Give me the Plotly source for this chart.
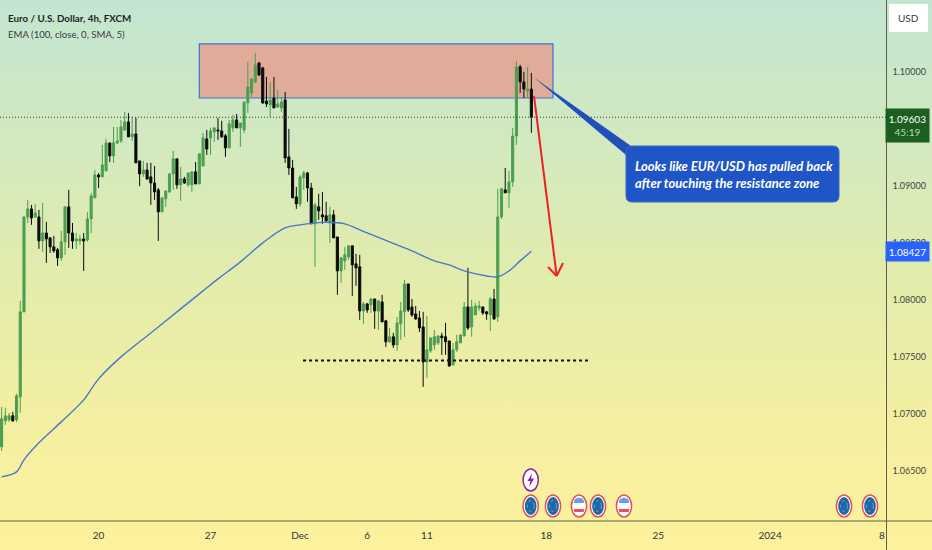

# plot.py - EUR/USD 4h candles with resistance zone and callout
import base64
import plotly.graph_objects as go

# candles, one per 4h bar
opens = [1.06712, 1.06940, 1.06949, 1.06984, 1.06949, 1.07150, 1.07896, 1.08729, 1.08799, 1.08729,
         1.08729, 1.08518, 1.08588, 1.08545, 1.08466, 1.08440, 1.08369, 1.08510, 1.08817, 1.08588,
         1.08518, 1.08518, 1.08536, 1.08527, 1.08711, 1.08896, 1.09097, 1.09080, 1.09132, 1.09378,
         1.09264, 1.09378, 1.09395, 1.09492, 1.09562, 1.09431, 1.09457, 1.09220, 1.09106, 1.09141,
         1.09080, 1.09027, 1.08966, 1.08773, 1.08887, 1.08948, 1.09106, 1.09238, 1.09010, 1.09062,
         1.09010, 1.09010, 1.09124, 1.09018, 1.09176, 1.09413, 1.09422, 1.09474, 1.09492, 1.09483,
         1.09440, 1.09334, 1.09510, 1.09580, 1.09510, 1.09492, 1.09729, 1.09816, 1.09913, 1.10080,
         1.10036, 1.09746, 1.09711, 1.09772, 1.09693, 1.09685, 1.09755, 1.09255, 1.09158, 1.08904,
         1.08843, 1.09071, 1.09115, 1.08983, 1.08668, 1.08817, 1.08747, 1.08738, 1.08676, 1.08747,
         1.08553, 1.08255, 1.08343, 1.08378, 1.08475, 1.08317, 1.08291, 1.07904, 1.07966, 1.07957,
         1.08009, 1.07904, 1.07983, 1.07817, 1.07633, 1.07677, 1.07606, 1.07791, 1.07896, 1.08141,
         1.07939, 1.07878, 1.07843, 1.07764, 1.07457, 1.07554, 1.07606, 1.07624, 1.07685, 1.07677,
         1.07641, 1.07431, 1.07563, 1.07624, 1.07685, 1.07939, 1.07764, 1.07869, 1.07931, 1.07939,
         1.07896, 1.07869, 1.08009, 1.07852, 1.08729, 1.08966, 1.08940, 1.09036, 1.09439, 1.10045,
         1.09913, 1.09834, 1.09851]
highs = [1.07062, 1.07054, 1.07010, 1.07019, 1.07177, 1.07992, 1.08729, 1.08878, 1.08834, 1.08843,
         1.08790, 1.08852, 1.08685, 1.08553, 1.08562, 1.08457, 1.08606, 1.08817, 1.08966, 1.08676,
         1.08588, 1.08571, 1.08588, 1.08773, 1.08940, 1.09141, 1.09114, 1.09361, 1.09413, 1.09378,
         1.09518, 1.09518, 1.09580, 1.09650, 1.09641, 1.09606, 1.09597, 1.09220, 1.09220, 1.09203,
         1.09203, 1.09176, 1.08983, 1.08896, 1.08957, 1.09115, 1.09308, 1.09238, 1.09167, 1.09080,
         1.09115, 1.09124, 1.09211, 1.09282, 1.09466, 1.09492, 1.09510, 1.09510, 1.09597, 1.09571,
         1.09457, 1.09580, 1.09624, 1.09632, 1.09553, 1.09737, 1.10088, 1.09948, 1.10167, 1.10088,
         1.10045, 1.09957, 1.09913, 1.09957, 1.09843, 1.09781, 1.09825, 1.09501, 1.09229, 1.08992,
         1.09097, 1.09132, 1.09124, 1.09027, 1.08852, 1.08931, 1.08948, 1.08861, 1.08817, 1.08790,
         1.08553, 1.08378, 1.08466, 1.08475, 1.08475, 1.08405, 1.08396, 1.07983, 1.07974, 1.08018,
         1.08009, 1.08001, 1.08045, 1.07826, 1.07755, 1.07712, 1.07852, 1.07983, 1.08176, 1.08141,
         1.08009, 1.07948, 1.07904, 1.07896, 1.07861, 1.07668, 1.07738, 1.07685, 1.07712, 1.07799,
         1.07641, 1.07624, 1.07694, 1.07694, 1.07983, 1.08282, 1.08001, 1.07974, 1.07992, 1.07939,
         1.07904, 1.08027, 1.08097, 1.08975, 1.08983, 1.09158, 1.09132, 1.09510, 1.10097, 1.10062,
         1.10001, 1.10045, 1.09992]
lows = [1.06677, 1.06905, 1.06931, 1.06931, 1.06931, 1.07010, 1.07896, 1.08676, 1.08659, 1.08720,
        1.08449, 1.08423, 1.08325, 1.08414, 1.08414, 1.08299, 1.08343, 1.08396, 1.08457, 1.08449,
        1.08449, 1.08483, 1.08255, 1.08510, 1.08588, 1.08896, 1.08983, 1.09080, 1.09132, 1.09211,
        1.09203, 1.09369, 1.09378, 1.09483, 1.09431, 1.09395, 1.09203, 1.08999, 1.09080, 1.09053,
        1.08834, 1.08878, 1.08518, 1.08773, 1.08817, 1.08940, 1.08966, 1.08975, 1.08869, 1.09018,
        1.08992, 1.08948, 1.09018, 1.09018, 1.09176, 1.09273, 1.09273, 1.09387, 1.09404, 1.09422,
        1.09255, 1.09334, 1.09474, 1.09510, 1.09343, 1.09466, 1.09641, 1.09781, 1.09904, 1.09965,
        1.09720, 1.09693, 1.09606, 1.09685, 1.09685, 1.09650, 1.09203, 1.09097, 1.08896, 1.08799,
        1.08817, 1.08966, 1.08861, 1.08668, 1.08290, 1.08703, 1.08668, 1.08676, 1.08501, 1.08545,
        1.08045, 1.08150, 1.08264, 1.08352, 1.08036, 1.08124, 1.07826, 1.07791, 1.07887, 1.07887,
        1.07747, 1.07738, 1.07808, 1.07589, 1.07624, 1.07580, 1.07554, 1.07650, 1.07677, 1.07896,
        1.07852, 1.07826, 1.07720, 1.07238, 1.07317, 1.07536, 1.07563, 1.07606, 1.07519, 1.07519,
        1.07413, 1.07422, 1.07545, 1.07624, 1.07685, 1.07738, 1.07677, 1.07869, 1.07904, 1.07869,
        1.07826, 1.07729, 1.07826, 1.07808, 1.08711, 1.08940, 1.08808, 1.08992, 1.09360, 1.09816,
        1.09772, 1.09772, 1.09466]
closes = [1.06958, 1.06984, 1.06984, 1.06940, 1.07159, 1.07896, 1.08729, 1.08799, 1.08720, 1.08764,
          1.08518, 1.08588, 1.08536, 1.08466, 1.08431, 1.08369, 1.08510, 1.08817, 1.08588, 1.08518,
          1.08536, 1.08536, 1.08518, 1.08711, 1.08913, 1.09097, 1.09080, 1.09185, 1.09378, 1.09264,
          1.09378, 1.09395, 1.09518, 1.09562, 1.09431, 1.09457, 1.09203, 1.09106, 1.09141, 1.09062,
          1.09027, 1.08948, 1.08773, 1.08896, 1.08957, 1.09106, 1.09238, 1.09010, 1.09062, 1.09027,
          1.09115, 1.09124, 1.09018, 1.09282, 1.09422, 1.09325, 1.09483, 1.09510, 1.09483, 1.09431,
          1.09334, 1.09545, 1.09580, 1.09510, 1.09553, 1.09737, 1.09869, 1.09939, 1.10062, 1.09974,
          1.09729, 1.09720, 1.09755, 1.09685, 1.09720, 1.09737, 1.09246, 1.09158, 1.08896, 1.08843,
          1.09080, 1.09115, 1.08983, 1.08668, 1.08834, 1.08782, 1.08729, 1.08694, 1.08747, 1.08545,
          1.08255, 1.08369, 1.08396, 1.08475, 1.08308, 1.08282, 1.07904, 1.07966, 1.07913, 1.08009,
          1.07904, 1.07992, 1.07808, 1.07633, 1.07677, 1.07606, 1.07799, 1.07904, 1.08141, 1.07913,
          1.07869, 1.07834, 1.07755, 1.07457, 1.07563, 1.07668, 1.07677, 1.07685, 1.07668, 1.07633,
          1.07422, 1.07563, 1.07633, 1.07694, 1.07939, 1.07755, 1.07939, 1.07948, 1.07948, 1.07887,
          1.07878, 1.08009, 1.07834, 1.08729, 1.08975, 1.08940, 1.09036, 1.09439, 1.10045, 1.09913,
          1.09851, 1.09851, 1.09603]
bars = list(range(len(closes)))

# EMA line, read at these bars
ema_bars = [0, 4, 6, 10, 16, 22, 26, 32, 40, 48, 54, 58, 64, 70, 76, 80, 86, 92, 96, 100,
            106, 110, 116, 120, 124, 130, 133, 136, 139, 142]
ema_vals = [1.06448, 1.06492, 1.06598, 1.06747, 1.06931, 1.07124, 1.07308, 1.07501, 1.07711, 1.07922,
            1.08080, 1.08185, 1.08334, 1.08501, 1.08632, 1.08659, 1.08681, 1.08668, 1.08615, 1.08562,
            1.08483, 1.08431, 1.08343, 1.08308, 1.08255, 1.08211, 1.08203, 1.08255, 1.08343, 1.08427]

x_ticks = [26, 56, 80, 98, 114, 146, 176, 206, 236]
x_labels = ["20", "27", "Dec", "6", "11", "18", "25", "2024", "8"]
y_ticks = [1.065, 1.07, 1.075, 1.08, 1.085, 1.09, 1.095, 1.10]

last_price = 1.09603
countdown = "45:19"
ema_last = 1.08427
support_level = 1.0747

FONT = "Lato, Roboto, sans-serif"
W = 932
H = 550


def px(x):
    return x / W


def py(y):
    return 1 - y / H


def ellipse(cx, cy, rx, ry, fill, line="rgba(0,0,0,0)", width=1, dash="solid"):
    return dict(type="circle", xref="paper", yref="paper", x0=px(cx - rx), x1=px(cx + rx),
                y0=py(cy + ry), y1=py(cy - ry), fillcolor=fill, line=dict(color=line, width=width, dash=dash))


def poly(points, fill):
    path = "M " + " L ".join("%f,%f" % (px(a), py(b)) for a, b in points) + " Z"
    return dict(type="path", xref="paper", yref="paper", path=path, fillcolor=fill, line=dict(width=0))


# gradient background, stretched over the whole page
svg = """<svg xmlns='http://www.w3.org/2000/svg' width='932' height='550' preserveAspectRatio='none'>
<defs><linearGradient id='g' x1='0' y1='0' x2='0' y2='1'>
<stop offset='0' stop-color='#c3e5d1'/><stop offset='0.25' stop-color='#d2e9c0'/>
<stop offset='0.5' stop-color='#e2ecac'/><stop offset='0.75' stop-color='#f3efa2'/>
<stop offset='1' stop-color='#fdf29c'/></linearGradient></defs>
<rect width='932' height='550' fill='url(#g)'/></svg>"""
bg_uri = "data:image/svg+xml;base64," + base64.b64encode(svg.encode()).decode()

fig = go.Figure()

fig.add_trace(go.Candlestick(
    x=bars, open=opens, high=highs, low=lows, close=closes,
    increasing=dict(line=dict(color="#4c9f50", width=1), fillcolor="#4c9f50"),
    decreasing=dict(line=dict(color="#0a0a0a", width=1), fillcolor="#0a0a0a"),
    whiskerwidth=0, showlegend=False, hoverinfo="skip",
))

fig.add_trace(go.Scatter(x=ema_bars, y=ema_vals, mode="lines", showlegend=False, hoverinfo="skip",
                         line=dict(color="#4a78c8", width=1.4, shape="spline")))

shapes = []
# resistance zone
shapes.append(dict(type="rect", xref="x", yref="y", x0=53, x1=147.8, y0=1.09772, y1=1.10246, layer="below",
                   fillcolor="#e0ab99", line=dict(color="#3f74d6", width=1.2)))
# last price line and support line
shapes.append(dict(type="line", xref="x", yref="y", x0=-0.43, x1=237.2, y0=last_price, y1=last_price,
                   line=dict(color="#2a4a2a", width=1, dash="1px,2px")))
shapes.append(dict(type="line", xref="x", yref="y", x0=80.8, x1=157.7, y0=support_level, y1=support_level,
                   line=dict(color="#111111", width=2, dash="dot")))
# red arrow
for a, b in [((534, 96), (556.7, 276)), ((548, 267), (556.7, 276)), ((563, 263), (556.7, 276))]:
    shapes.append(dict(type="line", xref="paper", yref="paper", x0=px(a[0]), y0=py(a[1]), x1=px(b[0]), y1=py(b[1]),
                       line=dict(color="#ee2222", width=2)))
# callout tail and box
shapes.append(poly([(534.3, 77.7), (631, 146), (626, 155)], "#2150bb"))
x0, x1, y0, y1, r = 626, 839, 146, 202, 6
box = ("M %f,%f L %f,%f Q %f,%f %f,%f L %f,%f Q %f,%f %f,%f L %f,%f Q %f,%f %f,%f L %f,%f Q %f,%f %f,%f Z" % (
    px(x0 + r), py(y0), px(x1 - r), py(y0), px(x1), py(y0), px(x1), py(y0 + r),
    px(x1), py(y1 - r), px(x1), py(y1), px(x1 - r), py(y1),
    px(x0 + r), py(y1), px(x0), py(y1), px(x0), py(y1 - r),
    px(x0), py(y0 + r), px(x0), py(y0), px(x0 + r), py(y0)))
shapes.append(dict(type="path", xref="paper", yref="paper", path=box, fillcolor="#1f55c6",
                   line=dict(color="#3d68c4", width=1)))
# axis lines run past the plot to the page edge
shapes.append(dict(type="line", xref="paper", yref="paper", x0=0, x1=1, y0=py(521), y1=py(521),
                   line=dict(color="#5c5c50", width=1)))
shapes.append(dict(type="line", xref="paper", yref="paper", x0=px(886.5), x1=px(886.5), y0=0, y1=1,
                   line=dict(color="#5c5c50", width=1)))
# USD box
shapes.append(dict(type="rect", xref="paper", yref="paper", x0=px(889), x1=px(928), y0=py(32), y1=py(4),
                   fillcolor="#ffffff", line=dict(width=0)))

# calendar icons along the bottom
for cx in [530.7, 553, 598, 844, 870]:
    shapes.append(ellipse(cx, 506, 7.6, 11, "#ffffff", "#e2525c", 1.5))
    shapes.append(ellipse(cx, 506, 5.8, 9, "#1c68a8"))
    shapes.append(ellipse(cx, 506, 3.4, 5.4, "rgba(0,0,0,0)", "#7fa8a0", 1, "dot"))
for cx in [579, 624]:
    shapes.append(ellipse(cx, 506, 7.6, 11, "#ffffff", "#e2525c", 1.5))
    shapes.append(poly([(cx - 5.5, 503), (cx - 4, 499), (cx, 497.5), (cx + 4, 499), (cx + 5.5, 503)], "#63a0ea"))
    shapes.append(poly([(cx - 5.4, 509), (cx + 5.4, 509), (cx + 4.6, 512), (cx - 4.6, 512)], "#e2525c"))
# lightning icon
shapes.append(ellipse(530.7, 480, 7.6, 11, "#ffffff", "#8e24aa", 1.5))
shapes.append(poly([(532, 473), (527.5, 481), (530.3, 481), (529.3, 487), (534, 478.5), (531, 478.5)], "#8e24aa"))

annotations = [
    dict(text="<b>Euro / U.S. Dollar, 4h, FXCM</b>", xref="paper", yref="paper", x=px(6), y=py(18), xanchor="left",
         yanchor="middle", showarrow=False, font=dict(family=FONT, size=9.8, color="#1f1f1f")),
    dict(text="EMA (100, close, 0, SMA, 5)", xref="paper", yref="paper", x=px(6), y=py(35), xanchor="left",
         yanchor="middle", showarrow=False, font=dict(family=FONT, size=9.6, color="#3a3a3a")),
    dict(text="USD", xref="paper", yref="paper", x=px(908), y=py(18), xanchor="center", yanchor="middle",
         showarrow=False, font=dict(family=FONT, size=10, color="#3a3a3a")),
    dict(text="<b><i>Looks like EUR/USD has pulled back<br>after touching the resistance zone</i></b>",
         xref="paper", yref="paper", x=px(633), y=py(174), xanchor="left", yanchor="middle", align="left",
         showarrow=False, font=dict(family=FONT, size=13, color="#ffffff")),
    dict(text="%.5f<br><span style='color:#b9d8b5'>%s</span>" % (last_price, countdown), xref="paper", yref="y",
         x=px(907.5), y=last_price, xanchor="center", yanchor="top", yshift=9, showarrow=False, width=41, height=31,
         align="center", bgcolor="#1b5e20", font=dict(family=FONT, size=10, color="#ffffff")),
    dict(text="%.5f" % ema_last, xref="paper", yref="y", x=px(907.5), y=ema_last, xanchor="center", yanchor="middle",
         showarrow=False, width=41, height=17, bgcolor="#2962ff", font=dict(family=FONT, size=10, color="#ffffff")),
]

fig.update_layout(
    width=W, height=H,
    margin=dict(l=0, r=0, t=0, b=0),
    paper_bgcolor="#e2ecac",
    plot_bgcolor="rgba(0,0,0,0)",
    showlegend=False,
    boxgap=0.2,
    font=dict(family=FONT, size=10, color="#333333"),
    shapes=shapes,
    annotations=annotations,
    images=[dict(source=bg_uri, xref="paper", yref="paper", x=0, y=1, sizex=1, sizey=1,
                 xanchor="left", yanchor="top", sizing="stretch", layer="below")],
    xaxis=dict(domain=[0, 886.5 / W], range=[-0.43, 237.2], showgrid=False, zeroline=False, showline=False,
               tickmode="array", tickvals=x_ticks, ticktext=x_labels, ticks="", rangeslider=dict(visible=False),
               ticklabelstandoff=7, tickfont=dict(family=FONT, size=10, color="#333333")),
    yaxis=dict(domain=[1 - 521 / H, 1], range=[1.060614, 1.106316], side="right", showgrid=False, zeroline=False,
               showline=False, tickmode="array", tickvals=y_ticks, tickformat=".5f", ticks="", ticklabelstandoff=5,
               tickfont=dict(family=FONT, size=9, color="#444444")),
)

# the page must have no margin so that the chart fills the window
fig.write_html("out.html", config=dict(displayModeBar=False),
               post_script="document.body.style.margin='0';document.documentElement.style.overflow='hidden';")
